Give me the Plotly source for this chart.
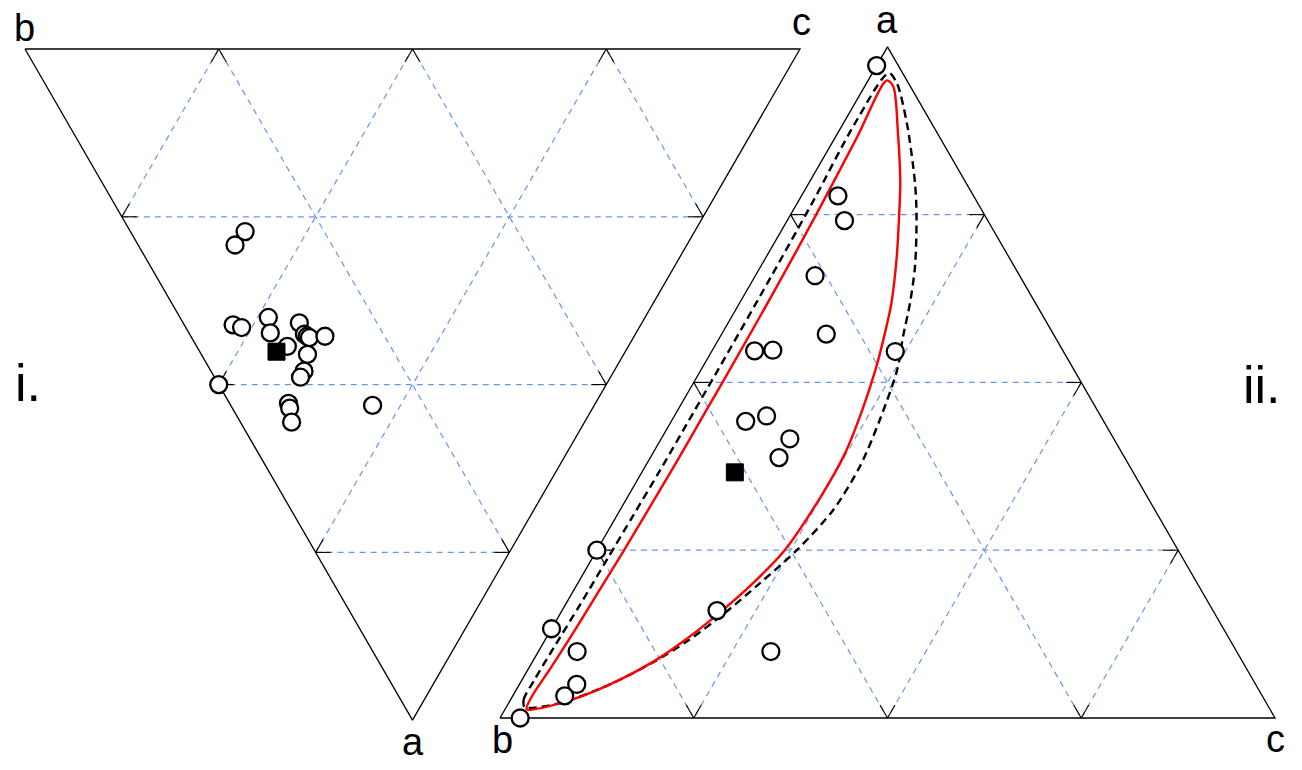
import numpy as np
import plotly.graph_objects as go

# ---------------- data (ternary compositions a, b, c) ----------------
# Panel i. (inverted ternary: a at bottom)
left_a = [0.272, 0.292, 0.411, 0.415, 0.400, 0.423, 0.443, 0.408, 0.425, 0.428,
          0.430, 0.428, 0.455, 0.480, 0.489, 0.500, 0.528, 0.535, 0.556, 0.531]
left_b = [0.580, 0.583, 0.526, 0.513, 0.486, 0.472, 0.440, 0.442, 0.427, 0.422,
          0.418, 0.399, 0.408, 0.400, 0.400, 0.500, 0.396, 0.391, 0.378, 0.286]
left_c = [0.148, 0.125, 0.063, 0.072, 0.114, 0.105, 0.117, 0.150, 0.148, 0.150,
          0.152, 0.173, 0.137, 0.120, 0.111, 0.000, 0.076, 0.074, 0.066, 0.183]
left_mean = [0.451, 0.450, 0.099]

# Panel ii. (normal ternary: a at top)
right_a = [0.972, 0.778, 0.741, 0.659, 0.572, 0.547, 0.548, 0.546, 0.442, 0.450,
           0.416, 0.388, 0.250, 0.133, 0.099, 0.050, 0.033, 0.000, 0.160, 0.099]
right_b = [0.028, 0.175, 0.185, 0.264, 0.293, 0.398, 0.374, 0.217, 0.462, 0.431,
           0.418, 0.446, 0.750, 0.867, 0.851, 0.876, 0.900, 0.974, 0.640, 0.601]
right_c = [0.000, 0.047, 0.074, 0.077, 0.135, 0.055, 0.078, 0.237, 0.096, 0.119,
           0.166, 0.166, 0.000, 0.000, 0.050, 0.074, 0.067, 0.026, 0.200, 0.300]
right_mean = [0.366, 0.514, 0.120]

# Red confidence region (a, c); b = 1 - a - c
red_a = [0.013, 0.032, 0.072, 0.126, 0.191, 0.248, 0.305, 0.375, 0.459, 0.519,
         0.630, 0.750, 0.866, 0.950, 0.941, 0.871, 0.797, 0.750, 0.688, 0.618,
         0.563, 0.519, 0.459, 0.395, 0.330, 0.248, 0.201, 0.157, 0.118, 0.084,
         0.050, 0.025, 0.013]
red_c = [0.028, 0.025, 0.028, 0.031, 0.033, 0.035, 0.036, 0.037, 0.037, 0.037,
         0.036, 0.033, 0.028, 0.024, 0.037, 0.078, 0.118, 0.140, 0.168, 0.196,
         0.213, 0.225, 0.238, 0.248, 0.249, 0.242, 0.226, 0.205, 0.182, 0.156,
         0.117, 0.074, 0.028]

# Black dashed region (a, c)
dash_a = [0.016, 0.027, 0.057, 0.106, 0.171, 0.240, 0.300, 0.370, 0.454, 0.519,
          0.658, 0.772, 0.886, 0.961, 0.946, 0.886, 0.797, 0.747, 0.673, 0.618,
          0.568, 0.519, 0.444, 0.375, 0.310, 0.250, 0.201, 0.155, 0.114, 0.080,
          0.048, 0.022, 0.016]
dash_c = [0.024, 0.017, 0.016, 0.017, 0.019, 0.020, 0.021, 0.022, 0.022, 0.022,
          0.021, 0.019, 0.015, 0.021, 0.039, 0.082, 0.137, 0.164, 0.199, 0.220,
          0.236, 0.253, 0.268, 0.277, 0.275, 0.258, 0.235, 0.211, 0.184, 0.153,
          0.114, 0.066, 0.024]

grid_vals = [0.25, 0.5, 0.75]

# ---------------- geometry (layout only) ----------------
SIDE = 775.0
H = np.sqrt(3) / 2
PANELS = {
    "left": dict(x0=25.0, y0=49.0, inverted=True),
    "right": dict(x0=500.0, y0=718.0, inverted=False),
}


def to_xy(a, b, c, panel):
    a = np.asarray(a, float)
    b = np.asarray(b, float)
    c = np.asarray(c, float)
    s = a + b + c
    a, c = a / s, c / s
    p = PANELS[panel]
    x = p["x0"] + SIDE * (c + a / 2)
    if p["inverted"]:
        y = p["y0"] + SIDE * H * a
    else:
        y = p["y0"] - SIDE * H * a
    return x, y


fig = go.Figure()

GRID_COLOR = "#6b96e8"
TICK_LEN = 15.0

for panel in ["left", "right"]:
    gx, gy, tx, ty = [], [], [], []
    for v in grid_vals:
        segs = [
            ((v, 1 - v, 0), (v, 0, 1 - v)),   # constant a
            ((1 - v, v, 0), (0, v, 1 - v)),   # constant b
            ((1 - v, 0, v), (0, 1 - v, v)),   # constant c
        ]
        for p1, p2 in segs:
            xs, ys = to_xy([p1[0], p2[0]], [p1[1], p2[1]], [p1[2], p2[2]], panel)
            gx += [xs[0], xs[1], None]
            gy += [ys[0], ys[1], None]
            dx, dy = xs[1] - xs[0], ys[1] - ys[0]
            L = np.hypot(dx, dy)
            ux, uy = dx / L, dy / L
            tx += [xs[0], xs[0] + ux * TICK_LEN, None, xs[1], xs[1] - ux * TICK_LEN, None]
            ty += [ys[0], ys[0] + uy * TICK_LEN, None, ys[1], ys[1] - uy * TICK_LEN, None]
    fig.add_trace(go.Scatter(x=gx, y=gy, mode="lines", hoverinfo="skip",
                             line=dict(color=GRID_COLOR, width=1.2, dash="6px,5px")))
    fig.add_trace(go.Scatter(x=tx, y=ty, mode="lines", hoverinfo="skip",
                             line=dict(color="black", width=1.1)))
    bx, by = to_xy([0, 0, 1, 0], [1, 0, 0, 1], [0, 1, 0, 0], panel)
    fig.add_trace(go.Scatter(x=bx, y=by, mode="lines", hoverinfo="skip",
                             line=dict(color="black", width=1.3)))

# confidence regions (panel ii)
da = np.array(dash_a); dc = np.array(dash_c)
x, y = to_xy(da, 1 - da - dc, dc, "right")
fig.add_trace(go.Scatter(x=x, y=y, mode="lines", hoverinfo="skip",
                         line=dict(color="black", width=2.4, dash="8px,5px", shape="spline", smoothing=0.8)))
ra = np.array(red_a); rc = np.array(red_c)
x, y = to_xy(ra, 1 - ra - rc, rc, "right")
fig.add_trace(go.Scatter(x=x, y=y, mode="lines", hoverinfo="skip",
                         line=dict(color="red", width=2.4, shape="spline", smoothing=0.8)))

circle_marker = dict(symbol="circle", size=17, color="white", line=dict(color="black", width=2.3))
square_marker = dict(symbol="square", size=17, color="black", line=dict(color="black", width=1))

x, y = to_xy(left_a, left_b, left_c, "left")
fig.add_trace(go.Scatter(x=x, y=y, mode="markers", marker=circle_marker, hoverinfo="skip"))
x, y = to_xy([left_mean[0]], [left_mean[1]], [left_mean[2]], "left")
fig.add_trace(go.Scatter(x=x, y=y, mode="markers", marker=square_marker, hoverinfo="skip"))

x, y = to_xy(right_a, right_b, right_c, "right")
fig.add_trace(go.Scatter(x=x, y=y, mode="markers", marker=circle_marker, hoverinfo="skip"))
x, y = to_xy([right_mean[0]], [right_mean[1]], [right_mean[2]], "right")
fig.add_trace(go.Scatter(x=x, y=y, mode="markers", marker=square_marker, hoverinfo="skip"))

FONT = "Liberation Sans, Arial, Helvetica, sans-serif"
labels = [
    ("b", 24, 28.4, 38), ("c", 801, 21.7, 38), ("a", 413, 741.7, 38),
    ("a", 887, 19.7, 38), ("b", 502, 739.7, 38), ("c", 1275, 738.7, 38),
    ("i.", 28, 382.5, 52), ("ii.", 1262, 384.8, 52),
]
for txt, lx, ly, fs in labels:
    fig.add_annotation(x=lx, y=ly, text=txt, showarrow=False, xref="x", yref="y",
                       xanchor="center", yanchor="middle",
                       font=dict(family=FONT, size=fs, color="black"))

fig.update_layout(
    width=1302, height=770,
    margin=dict(l=0, r=0, t=0, b=0),
    paper_bgcolor="white", plot_bgcolor="white",
    showlegend=False,
    xaxis=dict(range=[0, 1302], visible=False, fixedrange=True),
    yaxis=dict(range=[770, 0], visible=False, fixedrange=True),
)

fig.write_html("out.html", config={"displayModeBar": False},
               post_script="document.body.style.margin='0px';document.body.style.overflow='hidden';")
